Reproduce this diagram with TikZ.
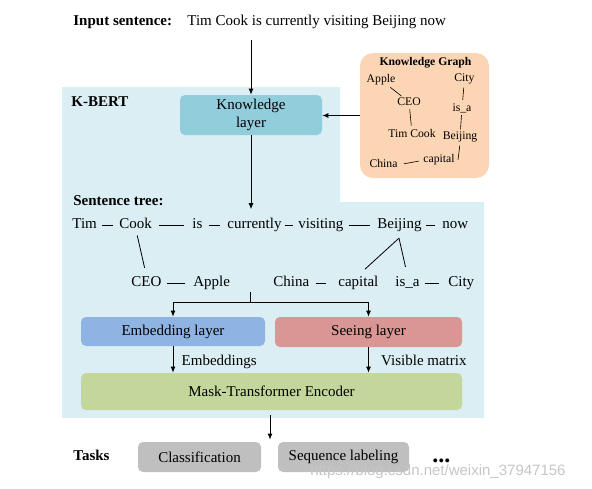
\documentclass[tikz,border=0pt]{standalone}
\usepackage{fontspec}
\setmainfont{Liberation Serif}
\newfontfamily\wmfont{Liberation Sans}
\usetikzlibrary{arrows.meta,calc}

\definecolor{kbertbg}{HTML}{DAEEF3}
\definecolor{klayercol}{HTML}{92CDDC}
\definecolor{kgcol}{HTML}{FCD5B4}
\definecolor{embcol}{HTML}{8EB4E3}
\definecolor{seecol}{HTML}{D99694}
\definecolor{enccol}{HTML}{C3D69B}
\definecolor{taskcol}{HTML}{BFBFBF}

\tikzset{
  word/.style={anchor=base west, inner sep=0pt},
  boldword/.style={word, font=\fontsize{15}{18}\selectfont\bfseries},
  kgword/.style={inner sep=1pt, font=\fontsize{11.7}{14}\selectfont},
  layerbox/.style={rounded corners=5pt, align=center, inner sep=0pt},
  dashline/.style 2 args={shorten <=#1pt, shorten >=#2pt},
  treeline/.style={shorten <=7pt, shorten >=8pt},
}

\begin{document}
\begin{tikzpicture}[x=1pt, y=-1pt, thick, >={Latex[length=6pt,width=5pt]}, every node/.style={font=\fontsize{15}{18}\selectfont}]
    \useasboundingbox (0,0) rectangle (592,488);
    %\draw[help lines] grid(592,488);
    % -------------------------
    % K-BERT background
    % -------------------------
    \fill[kbertbg] (62,87) -- (340,87) -- (340,202) -- (484,202) -- (484,418) -- (62,418) -- cycle;

    % -------------------------
    % Input sentence
    % -------------------------
    \node[boldword] (inlabel) at (73,25) {Input sentence:};
    \node[word] (sent) at (187,25) {Tim Cook is currently visiting Beijing now};
    \coordinate (inpt) at (251,40);

    \node[boldword] (kbert) at (71,106) {K-BERT};
    \node[layerbox, fill=klayercol, minimum width=142pt, minimum height=40pt] (klayer) at (251,115) {Knowledge\\layer};
    \draw[->] (inpt) -- (klayer.north);

    % -------------------------
    % Knowledge Graph
    % -------------------------
    \node[fill=kgcol, rounded corners=13pt, minimum width=129pt, minimum height=125pt] (kg) at (424.5,115.5) {};
    \node[kgword, font=\fontsize{11.7}{14}\selectfont\bfseries] (kgtitle) at (425.5,63) {Knowledge Graph};
    \node[kgword] (kapple) at (381,80) {Apple};
    \node[kgword] (kcity) at (464.5,79) {City};
    \node[kgword] (kceo) at (409,102) {CEO};
    \node[kgword] (kisa) at (462,108) {is\_a};
    \node[kgword] (ktim) at (412,133) {Tim Cook};
    \node[kgword] (kbeijing) at (460,137) {Beijing};
    \node[kgword] (kchina) at (383.5,163) {China};
    \node[kgword] (kcapital) at (439,160) {capital};
    % Edges
    \draw[semithick, shorten <=1pt, shorten >=1pt] (kapple) -- (kceo);
    \draw[semithick, shorten <=2pt, shorten >=2pt] (kceo) -- (ktim);
    \draw[semithick, shorten <=2pt, shorten >=2pt] (kcity) -- (kisa);
    \draw[semithick, shorten <=1pt, shorten >=1pt] (kisa) -- (kbeijing);
    \draw[semithick, shorten <=2pt] (kbeijing.south) -- ([xshift=2pt]kcapital.east);
    \draw[semithick, shorten <=5pt, shorten >=3pt] (kchina.mid east) -- (kcapital.mid west);

    \draw[->] (kg.west) -- (kg.west -| klayer.east);

    % -------------------------
    % Sentence tree
    % -------------------------
    \node[boldword] (stlabel) at (73,205) {Sentence tree:};
    \node[word] (tim) at (72,228) {Tim};
    \node[word] (cook) at (119,228) {Cook};
    \node[word] (is) at (192,228) {is};
    \node[word] (curr) at (227,228) {currently};
    \node[word] (visit) at (298,228) {visiting};
    \node[word] (beijing) at (377,228) {Beijing};
    \node[word] (now) at (442,228) {now};

    \node[word] (ceo) at (131,286) {CEO};
    \node[word] (apple) at (193,286) {Apple};
    \node[word] (china) at (273,286) {China};
    \node[word] (capital) at (338,286) {capital};
    \node[word] (isa) at (395,286) {is\_a};
    \node[word] (city) at (448,286) {City};

    % Dashes between words
    \draw[dashline={5}{6}] (tim.mid east) -- (cook.mid west);
    \draw[dashline={7}{8}] (cook.mid east) -- (is.mid west);
    \draw[dashline={6}{7}] (is.mid east) -- (curr.mid west);
    \draw[dashline={3}{5}] (curr.mid east) -- (visit.mid west);
    \draw[dashline={5}{7}] (visit.mid east) -- (beijing.mid west);
    \draw[dashline={4}{7}] (beijing.mid east) -- (now.mid west);
    \draw[dashline={5}{8}] (ceo.mid east) -- (apple.mid west);
    \draw[dashline={6}{12}] (china.mid east) -- (capital.mid west);
    \draw[dashline={5}{9}] (isa.mid east) -- (city.mid west);

    % Branches
    \draw[treeline] (cook.south) -- (ceo.north);
    \coordinate (fork) at ($(beijing.south)+(-0.5,6.5)$);
    \draw[shorten >=9pt] (fork) -- (capital.north);
    \draw[shorten >=9pt] (fork) -- (isa.north);

    \draw[->, shorten >=8pt] (klayer.south) -- (klayer.south |- curr.north);

    % -------------------------
    % Embedding / Seeing layers
    % -------------------------
    \node[layerbox, fill=embcol, minimum width=184pt, minimum height=29pt] (emb) at (173,331.5) {Embedding layer};
    \node[layerbox, fill=seecol, minimum width=187pt, minimum height=30pt] (see) at (368.5,332) {Seeing layer};
    \node[layerbox, fill=enccol, minimum width=381pt, minimum height=37pt] (enc) at (271.5,391.5) {Mask-Transformer Encoder};

    \coordinate (split) at (250,292);
    \coordinate (join) at (250,302);
    \draw (split) -- (join);
    \draw[->] (join) -| (emb.north);
    \draw[->] (join) -| (see.north);

    \draw[->] (emb.south) -- (emb.south |- enc.north) node[midway, right=5pt, yshift=-2.5pt] (embtxt) {Embeddings};
    \draw[->] (see.south) -- (see.south |- enc.north) node[midway, right=9pt] (vistxt) {Visible matrix};

    % -------------------------
    % Tasks
    % -------------------------
    \node[boldword] (tasks) at (73,460) {Tasks};
    \node[layerbox, fill=taskcol, minimum width=123pt, minimum height=30pt] (clsf) at (199.5,457) {Classification};
    \node[layerbox, fill=taskcol, minimum width=131pt, minimum height=30pt] (seqlab) at (343.5,457) {Sequence labeling};
    \node[word, font=\fontsize{24}{24}\selectfont\bfseries] (dots) at (432,462) {...};
    \draw[->, shorten <=5pt, shorten >=2pt] ([xshift=-1.5pt]enc.south) -- ([xshift=-1.5pt]enc.south |- clsf.north);

    % watermark
    \node[word, font=\wmfont\fontsize{15}{18}\selectfont, text=gray!45] (wm) at (310,475) {https://blog.csdn.net/weixin\_37947156};
\end{tikzpicture}
\end{document}
